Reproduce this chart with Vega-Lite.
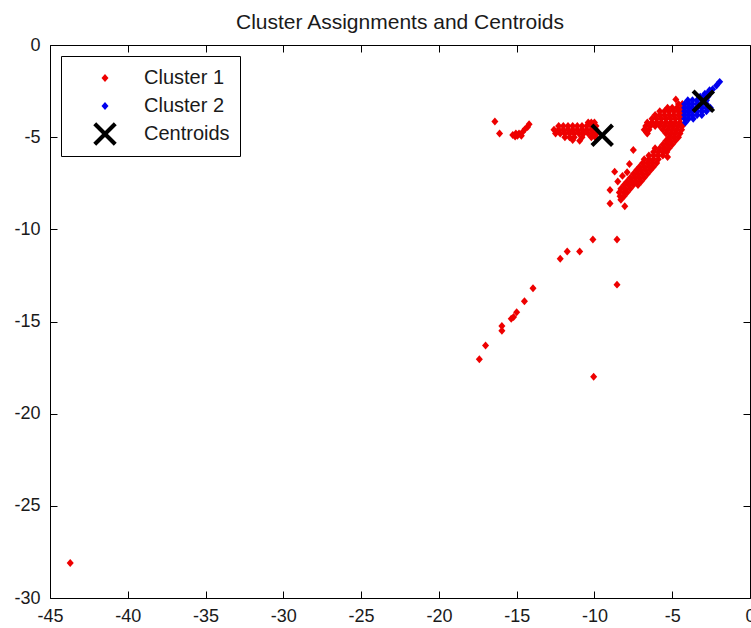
{
"$schema": "https://vega.github.io/schema/vega-lite/v6.json",
"width": 700, "height": 553,
"autosize": {"type": "none"},
"padding": {"left": 50, "top": 45, "right": 1, "bottom": 30},
"background": "white",
"title": {"text": "Cluster Assignments and Centroids", "fontSize": 21, "fontWeight": "normal", "font": "Liberation Sans", "color": "#1a1a1a", "offset": 3},
"config": {
  "view": {"stroke": "black", "strokeWidth": 1},
  "axis": {"domain": false, "grid": false, "tickSize": -7, "tickColor": "black", "tickWidth": 1, "labelColor": "#1a1a1a", "labelFont": "Liberation Sans", "labelFontSize": 18, "labelExpr": "toString(datum.value)"},
  "legend": {"orient": "top-left", "offset": 11, "strokeColor": "black", "fillColor": "white", "padding": 10, "symbolOffset": 22, "labelOffset": 27, "labelFontSize": 20, "labelFont": "Liberation Sans", "labelColor": "#1a1a1a", "rowPadding": 6, "symbolSize": 550, "symbolStrokeWidth": 0}
},
"datasets": {"pts": [
{"x":-43.7,"y":-28.1,"c":"Cluster 1"},
{"x":-17.4,"y":-17.05,"c":"Cluster 1"},
{"x":-17.0,"y":-16.3,"c":"Cluster 1"},
{"x":-15.95,"y":-15.25,"c":"Cluster 1"},
{"x":-15.95,"y":-15.5,"c":"Cluster 1"},
{"x":-15.35,"y":-14.85,"c":"Cluster 1"},
{"x":-15.2,"y":-14.75,"c":"Cluster 1"},
{"x":-15.0,"y":-14.5,"c":"Cluster 1"},
{"x":-14.5,"y":-13.9,"c":"Cluster 1"},
{"x":-13.95,"y":-13.2,"c":"Cluster 1"},
{"x":-12.2,"y":-11.6,"c":"Cluster 1"},
{"x":-11.75,"y":-11.2,"c":"Cluster 1"},
{"x":-10.95,"y":-11.2,"c":"Cluster 1"},
{"x":-10.1,"y":-10.55,"c":"Cluster 1"},
{"x":-8.55,"y":-10.55,"c":"Cluster 1"},
{"x":-8.55,"y":-13.0,"c":"Cluster 1"},
{"x":-10.05,"y":-18.0,"c":"Cluster 1"},
{"x":-16.4,"y":-4.15,"c":"Cluster 1"},
{"x":-16.1,"y":-4.8,"c":"Cluster 1"},
{"x":-15.25,"y":-4.88,"c":"Cluster 1"},
{"x":-15.05,"y":-4.8,"c":"Cluster 1"},
{"x":-15.1,"y":-4.97,"c":"Cluster 1"},
{"x":-14.85,"y":-4.8,"c":"Cluster 1"},
{"x":-14.7,"y":-4.92,"c":"Cluster 1"},
{"x":-14.6,"y":-4.7,"c":"Cluster 1"},
{"x":-14.45,"y":-4.55,"c":"Cluster 1"},
{"x":-14.2,"y":-4.3,"c":"Cluster 1"},
{"x":-14.95,"y":-4.92,"c":"Cluster 1"},
{"x":-14.3,"y":-4.45,"c":"Cluster 1"},
{"x":-10.4,"y":-4.2,"c":"Cluster 1"},
{"x":-10.2,"y":-4.2,"c":"Cluster 1"},
{"x":-10.0,"y":-4.2,"c":"Cluster 1"},
{"x":-12.3,"y":-4.4,"c":"Cluster 1"},
{"x":-12.0,"y":-4.4,"c":"Cluster 1"},
{"x":-11.7,"y":-4.4,"c":"Cluster 1"},
{"x":-11.4,"y":-4.4,"c":"Cluster 1"},
{"x":-11.1,"y":-4.4,"c":"Cluster 1"},
{"x":-10.8,"y":-4.4,"c":"Cluster 1"},
{"x":-10.5,"y":-4.4,"c":"Cluster 1"},
{"x":-10.2,"y":-4.4,"c":"Cluster 1"},
{"x":-9.9,"y":-4.4,"c":"Cluster 1"},
{"x":-12.6,"y":-4.6,"c":"Cluster 1"},
{"x":-12.3,"y":-4.6,"c":"Cluster 1"},
{"x":-12.0,"y":-4.6,"c":"Cluster 1"},
{"x":-11.7,"y":-4.6,"c":"Cluster 1"},
{"x":-11.4,"y":-4.6,"c":"Cluster 1"},
{"x":-11.1,"y":-4.6,"c":"Cluster 1"},
{"x":-10.8,"y":-4.6,"c":"Cluster 1"},
{"x":-10.5,"y":-4.6,"c":"Cluster 1"},
{"x":-10.2,"y":-4.6,"c":"Cluster 1"},
{"x":-9.9,"y":-4.6,"c":"Cluster 1"},
{"x":-12.5,"y":-4.8,"c":"Cluster 1"},
{"x":-12.2,"y":-4.8,"c":"Cluster 1"},
{"x":-11.9,"y":-4.8,"c":"Cluster 1"},
{"x":-11.6,"y":-4.8,"c":"Cluster 1"},
{"x":-11.3,"y":-4.8,"c":"Cluster 1"},
{"x":-11.0,"y":-4.8,"c":"Cluster 1"},
{"x":-10.7,"y":-4.8,"c":"Cluster 1"},
{"x":-10.4,"y":-4.8,"c":"Cluster 1"},
{"x":-10.1,"y":-4.8,"c":"Cluster 1"},
{"x":-9.85,"y":-4.8,"c":"Cluster 1"},
{"x":-11.9,"y":-5.0,"c":"Cluster 1"},
{"x":-11.6,"y":-5.0,"c":"Cluster 1"},
{"x":-11.3,"y":-5.0,"c":"Cluster 1"},
{"x":-10.8,"y":-5.0,"c":"Cluster 1"},
{"x":-10.2,"y":-5.0,"c":"Cluster 1"},
{"x":-9.95,"y":-5.0,"c":"Cluster 1"},
{"x":-10.95,"y":-5.2,"c":"Cluster 1"},
{"x":-11.4,"y":-5.15,"c":"Cluster 1"},
{"x":-4.77,"y":-2.95,"c":"Cluster 1"},
{"x":-4.6,"y":-3.2,"c":"Cluster 1"},
{"x":-4.35,"y":-3.2,"c":"Cluster 1"},
{"x":-5.3,"y":-3.4,"c":"Cluster 1"},
{"x":-5.0,"y":-3.4,"c":"Cluster 1"},
{"x":-4.7,"y":-3.4,"c":"Cluster 1"},
{"x":-4.4,"y":-3.4,"c":"Cluster 1"},
{"x":-5.8,"y":-3.6,"c":"Cluster 1"},
{"x":-5.5,"y":-3.6,"c":"Cluster 1"},
{"x":-5.2,"y":-3.6,"c":"Cluster 1"},
{"x":-4.9,"y":-3.6,"c":"Cluster 1"},
{"x":-4.6,"y":-3.6,"c":"Cluster 1"},
{"x":-4.35,"y":-3.6,"c":"Cluster 1"},
{"x":-6.1,"y":-3.8,"c":"Cluster 1"},
{"x":-5.8,"y":-3.8,"c":"Cluster 1"},
{"x":-5.5,"y":-3.8,"c":"Cluster 1"},
{"x":-5.2,"y":-3.8,"c":"Cluster 1"},
{"x":-4.9,"y":-3.8,"c":"Cluster 1"},
{"x":-4.6,"y":-3.8,"c":"Cluster 1"},
{"x":-4.4,"y":-3.8,"c":"Cluster 1"},
{"x":-6.3,"y":-4.0,"c":"Cluster 1"},
{"x":-6.0,"y":-4.0,"c":"Cluster 1"},
{"x":-5.7,"y":-4.0,"c":"Cluster 1"},
{"x":-5.4,"y":-4.0,"c":"Cluster 1"},
{"x":-5.1,"y":-4.0,"c":"Cluster 1"},
{"x":-4.8,"y":-4.0,"c":"Cluster 1"},
{"x":-4.5,"y":-4.0,"c":"Cluster 1"},
{"x":-6.6,"y":-4.2,"c":"Cluster 1"},
{"x":-6.3,"y":-4.2,"c":"Cluster 1"},
{"x":-6.0,"y":-4.2,"c":"Cluster 1"},
{"x":-5.7,"y":-4.2,"c":"Cluster 1"},
{"x":-5.4,"y":-4.2,"c":"Cluster 1"},
{"x":-5.1,"y":-4.2,"c":"Cluster 1"},
{"x":-4.8,"y":-4.2,"c":"Cluster 1"},
{"x":-4.5,"y":-4.2,"c":"Cluster 1"},
{"x":-6.7,"y":-4.4,"c":"Cluster 1"},
{"x":-6.4,"y":-4.4,"c":"Cluster 1"},
{"x":-6.1,"y":-4.4,"c":"Cluster 1"},
{"x":-5.8,"y":-4.4,"c":"Cluster 1"},
{"x":-5.5,"y":-4.4,"c":"Cluster 1"},
{"x":-5.2,"y":-4.4,"c":"Cluster 1"},
{"x":-4.9,"y":-4.4,"c":"Cluster 1"},
{"x":-4.6,"y":-4.4,"c":"Cluster 1"},
{"x":-4.35,"y":-4.4,"c":"Cluster 1"},
{"x":-6.8,"y":-4.6,"c":"Cluster 1"},
{"x":-6.5,"y":-4.6,"c":"Cluster 1"},
{"x":-5.6,"y":-4.6,"c":"Cluster 1"},
{"x":-5.3,"y":-4.6,"c":"Cluster 1"},
{"x":-5.0,"y":-4.6,"c":"Cluster 1"},
{"x":-4.7,"y":-4.6,"c":"Cluster 1"},
{"x":-4.4,"y":-4.6,"c":"Cluster 1"},
{"x":-6.6,"y":-4.8,"c":"Cluster 1"},
{"x":-5.4,"y":-4.8,"c":"Cluster 1"},
{"x":-5.1,"y":-4.8,"c":"Cluster 1"},
{"x":-4.8,"y":-4.8,"c":"Cluster 1"},
{"x":-4.5,"y":-4.8,"c":"Cluster 1"},
{"x":-5.2,"y":-5.0,"c":"Cluster 1"},
{"x":-4.9,"y":-5.0,"c":"Cluster 1"},
{"x":-4.6,"y":-5.0,"c":"Cluster 1"},
{"x":-5.4,"y":-5.2,"c":"Cluster 1"},
{"x":-5.1,"y":-5.2,"c":"Cluster 1"},
{"x":-4.8,"y":-5.2,"c":"Cluster 1"},
{"x":-5.6,"y":-5.4,"c":"Cluster 1"},
{"x":-5.3,"y":-5.4,"c":"Cluster 1"},
{"x":-5.0,"y":-5.4,"c":"Cluster 1"},
{"x":-6.1,"y":-5.6,"c":"Cluster 1"},
{"x":-5.8,"y":-5.6,"c":"Cluster 1"},
{"x":-5.5,"y":-5.6,"c":"Cluster 1"},
{"x":-5.2,"y":-5.6,"c":"Cluster 1"},
{"x":-6.2,"y":-5.8,"c":"Cluster 1"},
{"x":-5.9,"y":-5.8,"c":"Cluster 1"},
{"x":-5.6,"y":-5.8,"c":"Cluster 1"},
{"x":-5.35,"y":-5.8,"c":"Cluster 1"},
{"x":-6.5,"y":-6.0,"c":"Cluster 1"},
{"x":-6.2,"y":-6.0,"c":"Cluster 1"},
{"x":-5.9,"y":-6.0,"c":"Cluster 1"},
{"x":-5.6,"y":-6.0,"c":"Cluster 1"},
{"x":-6.8,"y":-6.2,"c":"Cluster 1"},
{"x":-6.5,"y":-6.2,"c":"Cluster 1"},
{"x":-6.2,"y":-6.2,"c":"Cluster 1"},
{"x":-5.9,"y":-6.2,"c":"Cluster 1"},
{"x":-6.9,"y":-6.4,"c":"Cluster 1"},
{"x":-6.6,"y":-6.4,"c":"Cluster 1"},
{"x":-6.3,"y":-6.4,"c":"Cluster 1"},
{"x":-6.0,"y":-6.4,"c":"Cluster 1"},
{"x":-7.1,"y":-6.6,"c":"Cluster 1"},
{"x":-6.8,"y":-6.6,"c":"Cluster 1"},
{"x":-6.5,"y":-6.6,"c":"Cluster 1"},
{"x":-6.2,"y":-6.6,"c":"Cluster 1"},
{"x":-7.3,"y":-6.8,"c":"Cluster 1"},
{"x":-7.0,"y":-6.8,"c":"Cluster 1"},
{"x":-6.7,"y":-6.8,"c":"Cluster 1"},
{"x":-6.4,"y":-6.8,"c":"Cluster 1"},
{"x":-7.5,"y":-7.0,"c":"Cluster 1"},
{"x":-7.2,"y":-7.0,"c":"Cluster 1"},
{"x":-6.9,"y":-7.0,"c":"Cluster 1"},
{"x":-6.6,"y":-7.0,"c":"Cluster 1"},
{"x":-7.7,"y":-7.2,"c":"Cluster 1"},
{"x":-7.4,"y":-7.2,"c":"Cluster 1"},
{"x":-7.1,"y":-7.2,"c":"Cluster 1"},
{"x":-6.8,"y":-7.2,"c":"Cluster 1"},
{"x":-7.9,"y":-7.4,"c":"Cluster 1"},
{"x":-7.6,"y":-7.4,"c":"Cluster 1"},
{"x":-7.3,"y":-7.4,"c":"Cluster 1"},
{"x":-7.0,"y":-7.4,"c":"Cluster 1"},
{"x":-8.1,"y":-7.6,"c":"Cluster 1"},
{"x":-7.8,"y":-7.6,"c":"Cluster 1"},
{"x":-7.5,"y":-7.6,"c":"Cluster 1"},
{"x":-7.2,"y":-7.6,"c":"Cluster 1"},
{"x":-8.3,"y":-7.8,"c":"Cluster 1"},
{"x":-8.0,"y":-7.8,"c":"Cluster 1"},
{"x":-7.7,"y":-7.8,"c":"Cluster 1"},
{"x":-8.4,"y":-8.0,"c":"Cluster 1"},
{"x":-8.1,"y":-8.0,"c":"Cluster 1"},
{"x":-7.9,"y":-8.0,"c":"Cluster 1"},
{"x":-8.35,"y":-8.2,"c":"Cluster 1"},
{"x":-8.1,"y":-8.2,"c":"Cluster 1"},
{"x":-7.5,"y":-5.7,"c":"Cluster 1"},
{"x":-7.75,"y":-6.45,"c":"Cluster 1"},
{"x":-8.7,"y":-6.87,"c":"Cluster 1"},
{"x":-9.0,"y":-7.87,"c":"Cluster 1"},
{"x":-9.0,"y":-8.6,"c":"Cluster 1"},
{"x":-8.05,"y":-8.75,"c":"Cluster 1"},
{"x":-6.65,"y":-4.75,"c":"Cluster 1"},
{"x":-8.2,"y":-7.1,"c":"Cluster 1"},
{"x":-8.5,"y":-7.4,"c":"Cluster 1"},
{"x":-7.9,"y":-6.9,"c":"Cluster 1"},
{"x":-8.3,"y":-8.4,"c":"Cluster 1"},
{"x":-5.3,"y":-6.07,"c":"Cluster 1"},
{"x":-1.95,"y":-2.0,"c":"Cluster 2"},
{"x":-2.15,"y":-2.2,"c":"Cluster 2"},
{"x":-2.4,"y":-2.4,"c":"Cluster 2"},
{"x":-2.6,"y":-2.45,"c":"Cluster 2"},
{"x":-2.7,"y":-2.6,"c":"Cluster 2"},
{"x":-2.9,"y":-2.65,"c":"Cluster 2"},
{"x":-3.2,"y":-2.8,"c":"Cluster 2"},
{"x":-2.95,"y":-2.8,"c":"Cluster 2"},
{"x":-2.7,"y":-2.8,"c":"Cluster 2"},
{"x":-4.0,"y":-3.0,"c":"Cluster 2"},
{"x":-3.7,"y":-3.0,"c":"Cluster 2"},
{"x":-3.4,"y":-3.0,"c":"Cluster 2"},
{"x":-3.1,"y":-3.0,"c":"Cluster 2"},
{"x":-2.8,"y":-3.0,"c":"Cluster 2"},
{"x":-4.2,"y":-3.2,"c":"Cluster 2"},
{"x":-3.95,"y":-3.2,"c":"Cluster 2"},
{"x":-3.7,"y":-3.2,"c":"Cluster 2"},
{"x":-3.4,"y":-3.2,"c":"Cluster 2"},
{"x":-3.1,"y":-3.2,"c":"Cluster 2"},
{"x":-2.8,"y":-3.2,"c":"Cluster 2"},
{"x":-4.2,"y":-3.4,"c":"Cluster 2"},
{"x":-3.95,"y":-3.4,"c":"Cluster 2"},
{"x":-3.7,"y":-3.4,"c":"Cluster 2"},
{"x":-3.4,"y":-3.4,"c":"Cluster 2"},
{"x":-3.1,"y":-3.4,"c":"Cluster 2"},
{"x":-2.8,"y":-3.4,"c":"Cluster 2"},
{"x":-2.55,"y":-3.4,"c":"Cluster 2"},
{"x":-4.2,"y":-3.6,"c":"Cluster 2"},
{"x":-3.95,"y":-3.6,"c":"Cluster 2"},
{"x":-3.7,"y":-3.6,"c":"Cluster 2"},
{"x":-3.4,"y":-3.6,"c":"Cluster 2"},
{"x":-3.1,"y":-3.6,"c":"Cluster 2"},
{"x":-2.8,"y":-3.6,"c":"Cluster 2"},
{"x":-4.2,"y":-3.8,"c":"Cluster 2"},
{"x":-3.95,"y":-3.8,"c":"Cluster 2"},
{"x":-3.7,"y":-3.8,"c":"Cluster 2"},
{"x":-3.4,"y":-3.8,"c":"Cluster 2"},
{"x":-3.1,"y":-3.8,"c":"Cluster 2"},
{"x":-4.2,"y":-4.0,"c":"Cluster 2"},
{"x":-3.95,"y":-4.0,"c":"Cluster 2"},
{"x":-3.65,"y":-4.0,"c":"Cluster 2"},
{"x":-4.15,"y":-4.2,"c":"Cluster 2"},
{"x":-9.5,"y":-4.9,"c":"Centroids"},
{"x":-3.0,"y":-3.05,"c":"Centroids"}
]},
"data": {"name": "pts"},
"layer": [
  {
    "mark": {"type": "point", "filled": true, "opacity": 1, "size": 550, "strokeWidth": 0},
    "encoding": {
      "x": {"field": "x", "type": "quantitative", "title": null, "scale": {"domain": [-45, 0], "nice": false, "zero": false},
            "axis": {"orient": "bottom", "values": [-45,-40,-35,-30,-25,-20,-15,-10,-5,0], "labelPadding": 16, "labelFlush": false}},
      "y": {"field": "y", "type": "quantitative", "title": null, "scale": {"domain": [-30, 0], "nice": false, "zero": false},
            "axis": {"orient": "left", "values": [-30,-25,-20,-15,-10,-5,0], "labelPadding": 17, "labelFlush": false}},
      "color": {"field": "c", "type": "nominal", "title": null,
                "scale": {"domain": ["Cluster 1", "Cluster 2", "Centroids"], "range": ["#ee0000", "#0000ee", "#000000"]}},
      "shape": {"field": "c", "type": "nominal", "title": null,
                "scale": {"domain": ["Cluster 1", "Cluster 2", "Centroids"],
                          "range": ["M0,-0.34L0.3,0L0,0.34L-0.3,0Z", "M0,-0.34L0.3,0L0,0.34L-0.3,0Z", "M-1,-0.75L-0.75,-1L0,-0.25L0.75,-1L1,-0.75L0.25,0L1,0.75L0.75,1L0,0.25L-0.75,1L-1,0.75L-0.25,0Z"]}}
    }
  },
  {
    "mark": {"type": "point", "opacity": 0},
    "encoding": {
      "x": {"field": "x", "type": "quantitative", "title": null, "axis": {"orient": "top", "labels": false, "values": [-45,-40,-35,-30,-25,-20,-15,-10,-5,0]}},
      "y": {"field": "y", "type": "quantitative", "title": null, "axis": {"orient": "right", "labels": false, "values": [-30,-25,-20,-15,-10,-5,0]}}
    }
  }
]
}
